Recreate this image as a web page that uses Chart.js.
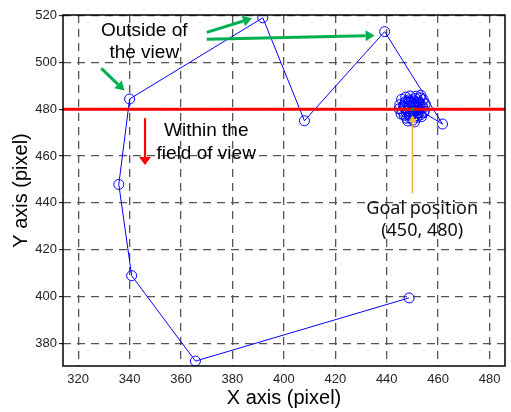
<!DOCTYPE html>
<html><head><meta charset="utf-8">
<script src="https://cdn.jsdelivr.net/npm/chart.js@4/dist/chart.umd.min.js"></script>
<style>html,body{margin:0;padding:0;background:#fff;}canvas{display:block;}</style>
</head><body>
<canvas id="c" width="511" height="412"></canvas>
<script>
// ---- data ----
const xTicks = [320, 340, 360, 380, 400, 420, 440, 460, 480];
const yTicks = [380, 400, 420, 440, 460, 480, 500, 520];
const xRange = [314.1, 486.0];
const yRange = [370.3, 520.3];

// robot trajectory (pixel coordinates of the tracked target)
const pathX = [448.7, 365.6, 340.8, 335.8, 340.0, 391.8, 408.0, 439.2, 461.7,
  454.3, 452.1, 448.3, 446.2, 449.0, 453.4, 451.2, 447.4, 445.1, 446.8, 450.2,
  454.1, 453.0, 449.6, 447.0, 448.9, 451.8, 454.6, 452.4, 449.1, 445.8, 444.8,
  447.7, 450.8, 453.6, 455.0, 453.3, 450.4, 448.0, 450.9, 452.6, 449.5, 446.5,
  448.6, 451.5, 454.2, 452.8, 449.8, 447.2, 445.6, 448.2, 451.0, 453.8, 450.6,
  449.2, 451.4, 450.0];
const pathY = [399.4, 372.4, 408.9, 447.9, 484.4, 519.1, 475.1, 513.2, 473.7,
  478.6, 481.0, 482.4, 479.1, 476.3, 477.8, 484.6, 485.2, 482.0, 477.5, 475.4,
  480.6, 484.9, 483.1, 480.8, 478.0, 476.6, 479.2, 482.7, 485.7, 484.3, 480.2,
  476.2, 474.6, 476.9, 482.3, 486.0, 482.0, 479.5, 480.8, 478.6, 477.1, 481.6,
  484.0, 485.6, 484.1, 480.0, 479.2, 483.3, 478.0, 475.0, 477.0, 481.6, 483.6,
  481.0, 479.6, 480.3];

const goalX = 450;
const goalY = 480;
const boundaryY = 480;   // upper limit of the field of view

// annotations (data coordinates)
const greenArrows = [
  [329.0, 497.5, 338.0, 488.0],
  [370.0, 512.9, 387.6, 518.9],
  [370.0, 509.9, 435.3, 511.5]
];
const redArrow = [346.0, 476.2, 346.0, 456.2];
const goalArrow = [450.0, 444.1, 450.0, 477.6];
const outsideText = [["Outside of", 345.7, 511.3], ["the view", 345.7, 501.8]];
const withinText = [["Within the", 369.8, 468.6], ["field of view", 369.8, 458.6]];
const goalText = [["Goal position", 453.8, 435.3], ["(450, 480)", 453.8, 425.9]];

// ---- chart ----
const pts = pathX.map((x, i) => ({x, y: pathY[i]}));

function arrow(ctx, x1, y1, x2, y2, color, lw, hl, hw) {
  const a = Math.atan2(y2 - y1, x2 - x1);
  const bx = x2 - hl * Math.cos(a), by = y2 - hl * Math.sin(a);
  ctx.save();
  ctx.strokeStyle = color; ctx.fillStyle = color; ctx.lineWidth = lw;
  ctx.beginPath(); ctx.moveTo(x1, y1); ctx.lineTo(bx, by); ctx.stroke();
  ctx.beginPath();
  ctx.moveTo(x2, y2);
  ctx.lineTo(bx + hw / 2 * Math.sin(a), by - hw / 2 * Math.cos(a));
  ctx.lineTo(bx - hw / 2 * Math.sin(a), by + hw / 2 * Math.cos(a));
  ctx.closePath(); ctx.fill();
  ctx.restore();
}

const annot = {
  id: 'annot',
  afterDatasetsDraw(chart) {
    const {ctx, scales: {x, y}, chartArea: ca} = chart;
    const X = v => x.getPixelForValue(v), Y = v => y.getPixelForValue(v);
    // frame
    ctx.save();
    ctx.strokeStyle = '#000'; ctx.lineWidth = 1.5;
    ctx.strokeRect(ca.left, ca.top, ca.right - ca.left, ca.bottom - ca.top);
    ctx.restore();
    greenArrows.forEach(a => arrow(ctx, X(a[0]), Y(a[1]), X(a[2]), Y(a[3]), '#00b050', 3, 9, 11));
    arrow(ctx, X(redArrow[0]), Y(redArrow[1]), X(redArrow[2]), Y(redArrow[3]), '#ff0000', 2.2, 8, 12);
    arrow(ctx, X(goalArrow[0]), Y(goalArrow[1]), X(goalArrow[2]), Y(goalArrow[3]), '#f5b041', 1.5, 7, 8);
    ctx.save();
    ctx.textAlign = 'center'; ctx.textBaseline = 'alphabetic'; ctx.fillStyle = '#000';
    ctx.font = '19px "Liberation Sans", Arial, sans-serif';
    outsideText.concat(withinText).forEach(t => ctx.fillText(t[0], X(t[1]), Y(t[2])));
    ctx.fillStyle = '#111';
    ctx.font = '18px "Noto Sans", "Open Sans", sans-serif';
    goalText.forEach(t => ctx.fillText(t[0], X(t[1]), Y(t[2])));
    ctx.restore();
  }
};

new Chart(document.getElementById('c'), {
  type: 'scatter',
  data: {
    datasets: [
      {
        data: [{x: goalX, y: goalY}],
        pointRadius: 1.8, pointBackgroundColor: '#00a000', pointBorderWidth: 0,
        showLine: false, order: 0
      },
      {
        data: [{x: xRange[0], y: boundaryY}, {x: xRange[1], y: boundaryY}],
        showLine: true, borderColor: '#ff0000', borderWidth: 3, pointRadius: 0,
        order: 1
      },
      {
        data: pts, showLine: true, borderColor: '#0000ff', borderWidth: 1,
        pointRadius: 5, pointBorderColor: '#0000ff', pointBorderWidth: 1,
        pointBackgroundColor: 'rgba(0,0,0,0)', tension: 0, order: 2
      }
    ]
  },
  options: {
    responsive: false, animation: false,
    layout: {padding: {left: 0, right: 1, top: 15, bottom: 0}},
    plugins: {legend: {display: false}, tooltip: {enabled: false}},
    scales: {
      x: {
        type: 'linear', min: xRange[0], max: xRange[1],
        afterBuildTicks: s => { s.ticks = xTicks.map(v => ({value: v})); },
        afterFit: s => { s.height = 46; s.paddingLeft = 0; s.paddingRight = 0; },
        ticks: {font: {family: '"Liberation Sans", Arial, sans-serif', size: 13}, color: '#222', padding: 6, maxRotation: 0, autoSkip: false},
        grid: {color: '#555', lineWidth: 1.3, drawTicks: false},
        border: {display: false, dash: [8, 6]},
        title: {display: true, text: 'X axis (pixel)', color: '#000',
          font: {family: '"Liberation Sans", Arial, sans-serif', size: 20}, padding: {top: 0, bottom: 2}}
      },
      y: {
        type: 'linear', min: yRange[0], max: yRange[1],
        afterBuildTicks: s => { s.ticks = yTicks.map(v => ({value: v})); },
        afterFit: s => { s.width = 63; s.paddingTop = 0; s.paddingBottom = 0; },
        ticks: {font: {family: '"Liberation Sans", Arial, sans-serif', size: 13}, color: '#222', padding: 2},
        grid: {color: '#555', lineWidth: 1.3, drawTicks: true, tickLength: 4, tickColor: '#000', tickBorderDash: [], tickWidth: 1},
        border: {display: false, dash: [8, 6]},
        title: {display: true, text: 'Y axis (pixel)', color: '#000',
          font: {family: '"Liberation Sans", Arial, sans-serif', size: 20}, padding: {top: 9, bottom: 0}}
      }
    }
  },
  plugins: [annot]
});
</script>
</body></html>
